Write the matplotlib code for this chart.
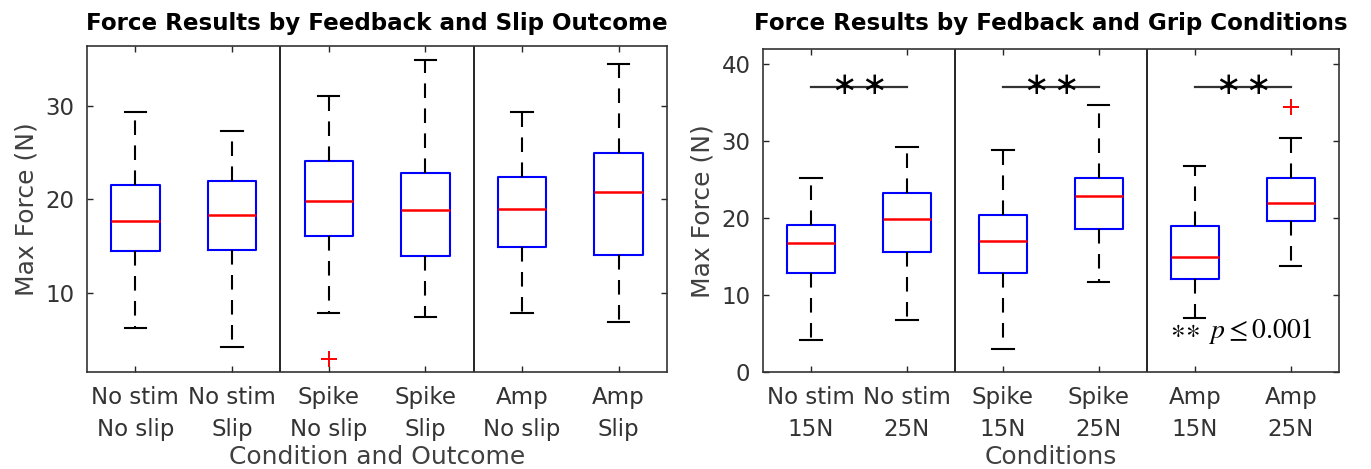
"""
plot.py - force results box plots (feedback x slip outcome, feedback x grip)
output: out.png
"""
import matplotlib
matplotlib.use("Agg")
import matplotlib.pyplot as plt

plt.rcParams["font.family"] = ["DejaVu Sans"]
plt.rcParams["mathtext.fontset"] = "stix"

# ---- data ----------------------------------------------------------
left_labels = ["No stim\nNo slip", "No stim\nSlip", "Spike\nNo slip",
               "Spike\nSlip", "Amp\nNo slip", "Amp\nSlip"]
left_whislo = [6.25, 4.2, 7.86, 7.36, 7.86, 6.89]
left_q1 = [14.46, 14.57, 16.07, 13.89, 14.89, 14.0]
left_med = [17.7, 18.3, 19.79, 18.79, 18.96, 20.79]
left_q3 = [21.5, 21.96, 24.1, 22.75, 22.36, 24.89]
left_whishi = [29.3, 27.25, 31.07, 34.86, 29.36, 34.39]
left_fliers = [[], [], [2.96], [], [], []]

right_labels = ["No stim\n15N", "No stim\n25N", "Spike\n15N",
                "Spike\n25N", "Amp\n15N", "Amp\n25N"]
right_whislo = [4.18, 6.85, 2.97, 11.68, 7.03, 13.84]
right_q1 = [12.84, 15.6, 12.93, 18.58, 12.08, 19.68]
right_med = [16.85, 19.87, 17.03, 22.84, 15.0, 22.0]
right_q3 = [19.14, 23.23, 20.43, 25.2, 19.0, 25.3]
right_whishi = [25.3, 29.27, 28.88, 34.78, 26.77, 30.43]
right_fliers = [[], [], [], [], [], [34.5]]

# significance brackets: (box a, box b) and bracket height
sig_pairs = [(1, 2), (3, 4), (5, 6)]
sig_y = 37.1
sig_text = r"$\ast\!\ast\ p \leq 0.001$"

AX_GRAY = "#262626"


def make_stats(lo, q1, med, q3, hi, fliers):
    return [dict(whislo=a, q1=b, med=c, q3=d, whishi=e, fliers=f)
            for a, b, c, d, e, f in zip(lo, q1, med, q3, hi, fliers)]


def draw_panel(ax, stats, labels, title, xlabel, ylim, yticks, title_pad):
    pos = list(range(1, len(stats) + 1))
    ax.bxp(stats, positions=pos, widths=0.5, capwidths=0.22,
           boxprops=dict(color="blue", lw=1.5),
           medianprops=dict(color="red", lw=1.8),
           whiskerprops=dict(color="black", lw=1.5, linestyle=(0, (7, 5))),
           capprops=dict(color="black", lw=1.5),
           flierprops=dict(marker="+", markeredgecolor="red", markersize=11,
                           markeredgewidth=1.4, linestyle="none"))
    # group separators
    for x in (2.5, 4.5):
        ax.axvline(x, color="black", lw=1.2)
    ax.set_xlim(0.5, len(stats) + 0.5)
    ax.set_ylim(*ylim)
    ax.set_yticks(yticks)
    ax.set_xticks(pos, labels)
    for lbl in ax.get_xticklabels():
        lbl.set_linespacing(1.5)
    ax.tick_params(direction="in", length=4, width=1.0, top=True, right=True,
                   labelsize=16.5, colors=AX_GRAY, labelcolor="#333333")
    ax.tick_params(axis="y", pad=9)
    ax.tick_params(axis="x", pad=10)
    for s in ax.spines.values():
        s.set_color("#333333")
        s.set_linewidth(1.2)
    ax.set_title(title, fontsize=16.6, fontweight="bold", pad=title_pad)
    ax.set_xlabel(xlabel, fontsize=18, color="#404040", labelpad=3)
    ax.set_ylabel("Max Force (N)", fontsize=18, color="#404040", labelpad=5)


fig = plt.figure(figsize=(13.71, 4.69), dpi=100)
ax1 = fig.add_axes([0.0635, 0.2062, 0.423, 0.6964])
ax2 = fig.add_axes([0.5565, 0.2062, 0.4201, 0.6893])

draw_panel(ax1, make_stats(left_whislo, left_q1, left_med, left_q3,
                           left_whishi, left_fliers),
           left_labels, "Force Results by Feedback and Slip Outcome",
           "Condition and Outcome", (1.5, 36.4), [10, 20, 30], 11)
draw_panel(ax2, make_stats(right_whislo, right_q1, right_med, right_q3,
                           right_whishi, right_fliers),
           right_labels, "Force Results by Fedback and Grip Conditions",
           "Conditions", (0, 42), [0, 10, 20, 30, 40], 14)

# ---- significance markers -------------------------------------------
for a, b in sig_pairs:
    ax2.plot([a, b], [sig_y, sig_y], color="#333333", lw=1.6)
    for dx in (0.34, 0.66):
        ax2.text(a + dx, sig_y + 0.2, "\u2217", fontsize=22, ha="center",
                 va="center", color="black")
ax2.text(4.74, 4.5, sig_text, fontsize=20, ha="left", va="baseline",
         color="black")

fig.savefig("out.png", dpi=100)
